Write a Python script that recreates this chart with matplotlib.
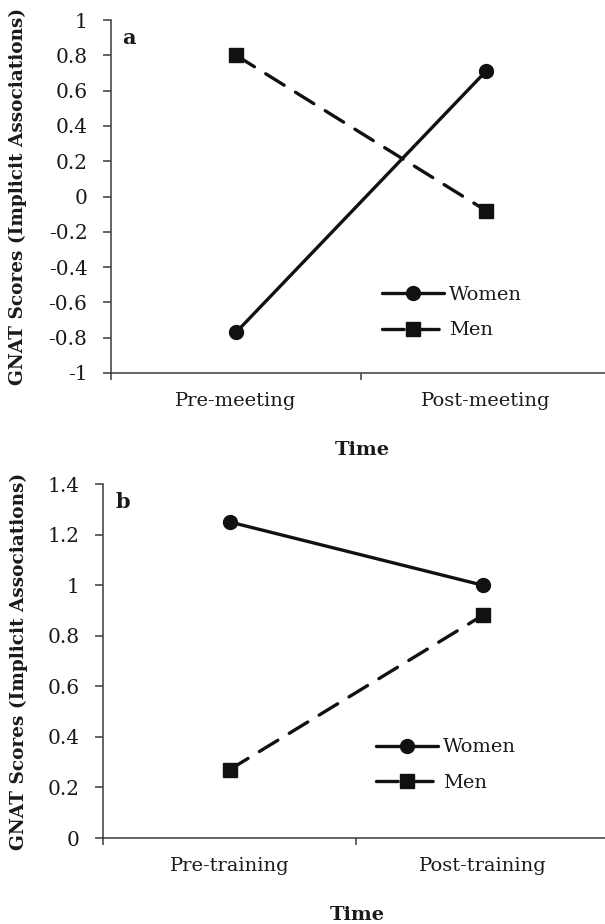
import matplotlib
matplotlib.use("Agg")
import matplotlib.pyplot as plt

plt.rcParams['font.family'] = ['DejaVu Serif']

# Data
cats_a = ["Pre-meeting", "Post-meeting"]
women_a = [-0.77, 0.71]
men_a = [0.80, -0.08]
yticks_a = [-1, -0.8, -0.6, -0.4, -0.2, 0, 0.2, 0.4, 0.6, 0.8, 1]

cats_b = ["Pre-training", "Post-training"]
women_b = [1.25, 1.00]
men_b = [0.27, 0.88]
yticks_b = [0, 0.2, 0.4, 0.6, 0.8, 1, 1.2, 1.4]

ylabel = "GNAT Scores (Implicit Associations)"
xlabel = "Time"

W, H = 605, 924
fig = plt.figure(figsize=(W / 100, H / 100), dpi=100)

def fmt(v):
    return "%g" % v

def panel(rect, cats, women, men, yticks, ylim, letter, leg_xy, ylab_x, letter_xy):
    ax = fig.add_axes(rect)
    x = list(range(len(cats)))
    lc = '#111111'
    ax.plot(x, women, color=lc, lw=2.4, marker='o', ms=10, solid_capstyle='round', label='Women')
    ax.plot(x, men, color=lc, lw=2.4, marker='s', ms=9.5, dashes=(6.5, 4), dash_capstyle='round', label='Men')
    ax.set_xlim(-0.5, len(cats) - 0.5)
    ax.set_ylim(*ylim)
    ax.set_yticks(yticks)
    ax.set_yticklabels([fmt(v) for v in yticks])
    ax.set_xticks([i - 0.5 for i in range(len(cats) + 1)])
    ax.set_xticklabels([])
    ax.set_xticks(x, minor=True)
    ax.set_xticklabels(cats, minor=True)
    ax.tick_params(axis='x', which='minor', length=0, pad=14, labelsize=14, labelcolor='#1a1a1a')
    ax.tick_params(axis='x', which='major', direction='out', length=5, width=1.1, color='#3a3a3a')
    ax.tick_params(axis='y', direction='out', length=6, width=1.1, color='#3a3a3a', pad=11,
                   labelsize=14.5, labelcolor='#1a1a1a')
    for s in ['top', 'right']:
        ax.spines[s].set_visible(False)
    for s in ['left', 'bottom']:
        ax.spines[s].set_color('#3a3a3a')
        ax.spines[s].set_linewidth(1.1)
    ax.set_ylabel(ylabel, fontsize=13.3, fontweight='bold', color='#1a1a1a')
    ax.yaxis.label.set_va('center')
    ax.yaxis.set_label_coords(ylab_x, 0.5)
    ax.set_xlabel(xlabel, fontsize=14, fontweight='bold', color='#1a1a1a')
    ax.xaxis.label.set_va('center')
    ax.xaxis.set_label_coords(0.502, -0.218)
    ax.text(letter_xy[0], letter_xy[1], letter, transform=ax.transAxes, fontsize=15,
            fontweight='bold', ha='left', va='center', color='#1a1a1a')
    leg = ax.legend(loc='center left', bbox_to_anchor=leg_xy, frameon=False, fontsize=14,
                    handlelength=3.2, handletextpad=0.25, labelspacing=0.9, borderpad=0,
                    borderaxespad=0)
    for t in leg.get_texts():
        t.set_color('#1a1a1a')
    return ax

# top panel: left 111, right 611, top 20, bottom 373
panel([111 / W, (H - 373) / H, 500 / W, 353 / H], cats_a, women_a, men_a, yticks_a, (-1, 1),
      'a', (0.542, 0.171), -0.186, (0.023, 0.95))
# bottom panel: left 103, right 609, top 484, bottom 838
panel([103 / W, (H - 838) / H, 506 / W, 354 / H], cats_b, women_b, men_b, yticks_b, (0, 1.4),
      'b', (0.54, 0.206), -0.166, (0.025, 0.95))

fig.savefig('out.png', dpi=100)
